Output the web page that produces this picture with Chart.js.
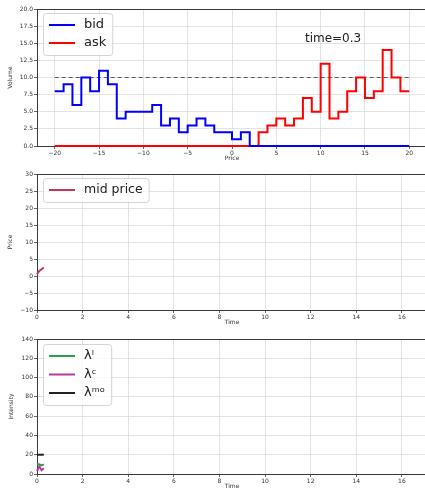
<!DOCTYPE html>
<html lang="en">
<head>
  <meta charset="UTF-8">
  <script src="https://cdnjs.cloudflare.com/ajax/libs/Chart.js/4.4.1/chart.umd.min.js"></script>
  <style>
    * { margin: 0; padding: 0; box-sizing: border-box; }
    html, body { width: 425px; height: 494px; overflow: hidden; background: #fff; }
    .panel { position: absolute; left: 0; }
  </style>
  <title>Order book</title>
</head>
<body>
  <div class="panel" style="top:0px"><canvas id="bookChart" width="428" height="166"></canvas></div>
  <div class="panel" style="top:166px"><canvas id="midChart" width="428" height="164"></canvas></div>
  <div class="panel" style="top:330px"><canvas id="rateChart" width="428" height="164"></canvas></div>

<script>
  // --- data ---
  var priceLevels = [-20, -19, -18, -17, -16, -15, -14, -13, -12, -11, -10, -9, -8, -7, -6, -5, -4, -3, -2, -1, 0,
    1, 2, 3, 4, 5, 6, 7, 8, 9, 10, 11, 12, 13, 14, 15, 16, 17, 18, 19, 20];
  var bidVolume = [8, 9, 6, 10, 8, 11, 9, 4, 5, 5, 5, 6, 3, 4, 2, 3, 4, 3, 2, 2, 1,
    2, 0, 0, 0, 0, 0, 0, 0, 0, 0, 0, 0, 0, 0, 0, 0, 0, 0, 0, 0];
  var askVolume = [0, 0, 0, 0, 0, 0, 0, 0, 0, 0, 0, 0, 0, 0, 0, 0, 0, 0, 0, 0, 0,
    0, 0, 2, 3, 4, 3, 4, 7, 5, 12, 4, 5, 8, 10, 7, 8, 14, 10, 8, 8];
  var refPrices = [-20, 20];
  var refVolume = [10, 10];
  var timeLabel = 'time=0.3';

  var times = [0, 0.1, 0.2, 0.3];
  var midPrice = [0.5, 1.5, 2, 2.5];
  var lambdaL = [10, 10, 9, 10];
  var lambdaC = [3, 8, 4, 6];
  var lambdaMO = [20, 20, 20, 20];

  var volumeTicks = [0, 2.5, 5, 7.5, 10, 12.5, 15, 17.5, 20];
  var priceTicks = [-20, -15, -10, -5, 0, 5, 10, 15, 20];
  var midTicks = [-10, -5, 0, 5, 10, 15, 20, 25, 30];
  var timeTicks = [0, 2, 4, 6, 8, 10, 12, 14, 16];
  var intensityTicks = [0, 20, 40, 60, 80, 100, 120, 140];

  var FONT = '"DejaVu Sans", sans-serif';
  var gridColor = '#dcdcdc';
  var spineColor = '#3a3a3a';

  function pts(xs, ys) {
    return xs.map(function (x, i) { return { x: x, y: ys[i] }; });
  }

  function fmt(dec) {
    return function (v) {
      return (v < 0 ? '\u2212' : '') + Math.abs(v).toFixed(dec);
    };
  }

  function axis(title, tickList, min, max, isY, dec, titlePad) {
    return {
      type: 'linear',
      min: min,
      max: max,
      grid: { color: gridColor, tickColor: spineColor, tickLength: 3, lineWidth: 0.8 },
      border: { display: false },
      ticks: { font: { size: 6, family: FONT }, color: '#333', padding: 1, autoSkip: false, maxRotation: 0, callback: fmt(dec) },
      title: { display: true, text: title, font: { size: 6, family: FONT }, color: '#333', padding: titlePad },
      afterBuildTicks: function (s) { s.ticks = tickList.map(function (v) { return { value: v }; }); },
      afterFit: function (s) { if (isY) { s.width = 37; } else { s.height = 20; } }
    };
  }

  // box round the plot area, like matplotlib spines (under the lines)
  var spines = {
    id: 'spines',
    beforeDatasetsDraw: function (chart) {
      var a = chart.chartArea, ctx = chart.ctx;
      ctx.save();
      ctx.strokeStyle = spineColor;
      ctx.lineWidth = 1;
      ctx.strokeRect(a.left + 0.5, a.top + 0.5, a.right - a.left, a.bottom - a.top);
      ctx.restore();
    }
  };

  // legend drawn inside the axes, upper left, with a frame
  var insideLegend = {
    id: 'insideLegend',
    afterDraw: function (chart, args, opts) {
      var items = chart.data.datasets.filter(function (d) { return d.label; });
      var ctx = chart.ctx, a = chart.chartArea;
      ctx.save();
      ctx.font = opts.fontSize + 'px ' + FONT;
      var textW = Math.max.apply(null, items.map(function (d) { return ctx.measureText(d.label).width; }));
      var x0 = a.left + 6, y0 = a.top + opts.firstRow - 12;
      var w = 41 + textW + 6, h = (items.length - 1) * opts.rowH + 24;
      ctx.beginPath();
      ctx.roundRect(x0 + 0.5, y0 + 0.5, w, h, 3);
      ctx.fillStyle = 'rgba(255,255,255,0.8)';
      ctx.fill();
      ctx.strokeStyle = '#d4d4d4';
      ctx.lineWidth = 1;
      ctx.stroke();
      items.forEach(function (d, i) {
        var y = a.top + opts.firstRow + i * opts.rowH;
        ctx.beginPath();
        ctx.moveTo(x0 + 6, y);
        ctx.lineTo(x0 + 32, y);
        ctx.strokeStyle = d.borderColor;
        ctx.lineWidth = 2;
        ctx.stroke();
        ctx.fillStyle = '#222';
        ctx.textBaseline = 'middle';
        ctx.fillText(d.label, x0 + 41, y);
      });
      ctx.restore();
    }
  };

  // "time=..." note placed in data coordinates
  var note = {
    id: 'note',
    afterDatasetsDraw: function (chart, args, opts) {
      if (!opts.text) return;
      var ctx = chart.ctx;
      ctx.save();
      ctx.font = '12px ' + FONT;
      ctx.fillStyle = '#222';
      ctx.textAlign = 'center';
      ctx.textBaseline = 'middle';
      ctx.fillText(opts.text, chart.scales.x.getPixelForValue(opts.x), chart.scales.y.getPixelForValue(opts.y));
      ctx.restore();
    }
  };

  function baseOptions(xAxis, yAxis, padTop, legendOpts, noteOpts) {
    return {
      responsive: false,
      animation: false,
      layout: { padding: { top: padTop, right: 1, left: 0, bottom: 0 } },
      elements: { point: { radius: 0 }, line: { borderWidth: 2 } },
      scales: { x: xAxis, y: yAxis },
      plugins: {
        legend: { display: false },
        tooltip: { enabled: false },
        insideLegend: legendOpts,
        note: noteOpts || {}
      }
    };
  }

  new Chart('bookChart', {
    type: 'line',
    data: {
      datasets: [{
        label: 'bid',
        data: pts(priceLevels, bidVolume),
        borderColor: '#0000ff',
        stepped: 'before',
        clip: false
      }, {
        label: 'ask',
        data: pts(priceLevels, askVolume),
        borderColor: '#ff0000',
        stepped: 'before',
        clip: false
      }, {
        label: '',
        data: pts(refPrices, refVolume),
        borderColor: 'rgba(0,0,0,0.6)',
        borderWidth: 1,
        borderDash: [4, 3]
      }]
    },
    options: baseOptions(
      axis('Price', priceTicks, -22, 22, false, 0, { top: 0 }),
      axis('Volume', volumeTicks, 0, 20, true, 1, { top: 7 }),
      9,
      { fontSize: 13, firstRow: 16, rowH: 18 },
      { text: timeLabel, x: 11.4, y: 15.6 }
    ),
    plugins: [spines, insideLegend, note]
  });

  new Chart('midChart', {
    type: 'line',
    data: {
      datasets: [{
        label: 'mid price',
        data: pts(times, midPrice),
        borderColor: '#c4365c',
        clip: false
      }]
    },
    options: baseOptions(
      axis('Time', timeTicks, 0, 17.1, false, 0, { top: 0 }),
      axis('Price', midTicks, -10, 30, true, 0, { top: 7 }),
      8,
      { fontSize: 12.5, firstRow: 16, rowH: 18.5 }
    ),
    plugins: [spines, insideLegend, note]
  });

  new Chart('rateChart', {
    type: 'line',
    data: {
      datasets: [{
        label: 'λˡ',
        data: pts(times, lambdaL),
        borderColor: '#2e9e4e',
        clip: false
      }, {
        label: 'λᶜ',
        data: pts(times, lambdaC),
        borderColor: '#b53aa4',
        clip: false
      }, {
        label: 'λᵐᵒ',
        data: pts(times, lambdaMO),
        borderColor: '#222222',
        clip: false
      }]
    },
    options: baseOptions(
      axis('Time', timeTicks, 0, 17.1, false, 0, { top: 0 }),
      axis('Intensity', intensityTicks, 0, 140, true, 0, { top: 8 }),
      9,
      { fontSize: 13, firstRow: 17, rowH: 18.5 }
    ),
    plugins: [spines, insideLegend, note]
  });
</script>
</body>
</html>
